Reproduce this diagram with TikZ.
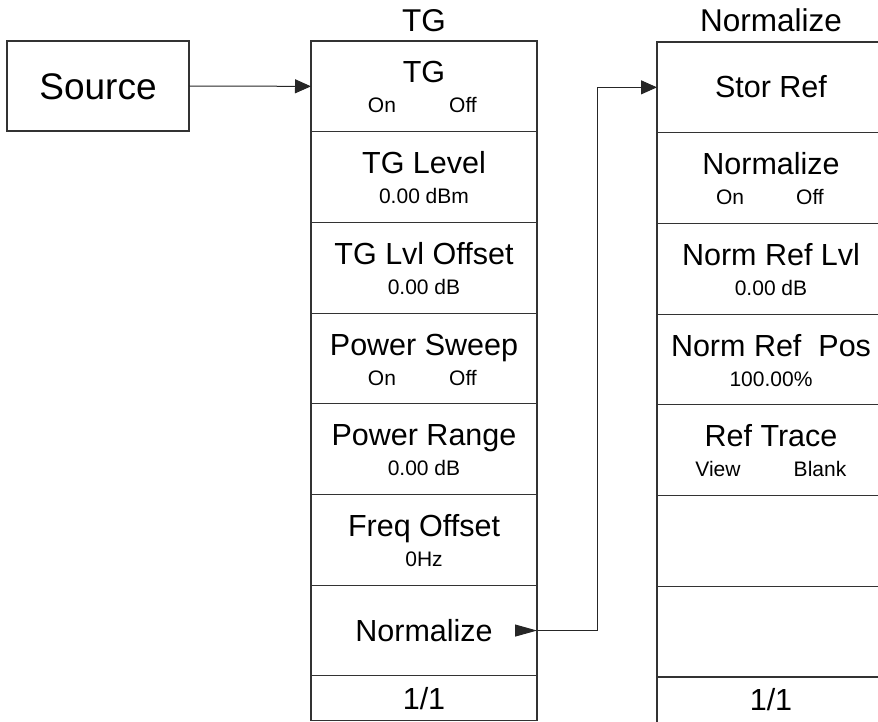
\documentclass[tikz,border=0pt]{standalone}
\usepackage{fontspec}
\setmainfont{Liberation Sans}
\usetikzlibrary{arrows.meta}
\begin{document}
\begin{tikzpicture}[x=1pt,y=-1pt,
  cell/.style={draw=black!80, line width=1.1pt, minimum width=226pt, inner sep=0pt, outer sep=0pt},
  big/.style={font=\fontsize{30.5}{36}\selectfont, anchor=base, inner sep=0pt},
  small/.style={font=\fontsize{21}{25}\selectfont, anchor=base, inner sep=0pt},
  ttl/.style={font=\fontsize{31.5}{37}\selectfont, anchor=base, inner sep=0pt},
  conn/.style={line width=1pt, draw=black!85},
  tip/.style={-{Triangle[length=16pt,width=14pt]}}
]
\useasboundingbox (0,0) rectangle (878,722);
\clip (0,0) rectangle (878,722);

% Source
\node[draw=black!80, line width=1.1pt, minimum width=182pt, minimum height=90pt, inner sep=0pt, outer sep=0pt] (src) at (98,86) {};
\node[anchor=base, inner sep=0pt, font=\fontsize{37}{42}\selectfont] (srct) at (98,99.5) {Source};

% Titles
\node[ttl] (ttg) at (424,32) {TG};
\node[ttl] (tnm) at (771,32) {Normalize};

% TG column cells
\node[cell, minimum height=90.7pt] (t1) at (424,86.35) {};
\node[cell, minimum height=90.7pt] (t2) at (424,177.05) {};
\node[cell, minimum height=90.7pt] (t3) at (424,267.75) {};
\node[cell, minimum height=90.7pt] (t4) at (424,358.45) {};
\node[cell, minimum height=90.7pt] (t5) at (424,449.15) {};
\node[cell, minimum height=90.7pt] (t6) at (424,539.85) {};
\node[cell, minimum height=90.7pt] (t7) at (424,630.55) {};
\node[cell, minimum height=44.8pt] (t8) at (424,698.3) {};

% TG column texts
\node[big] (t1a) at (424,83) {TG};
\node[small] (t1b) at (382,113) {On};
\node[small] (t1c) at (463,113) {Off};
\node[big] (t2a) at (424,173.7) {TG Level};
\node[small] (t2b) at (424,203.7) {0.00 dBm};
\node[big] (t3a) at (424,264.4) {TG Lvl Offset};
\node[small] (t3b) at (424,294.4) {0.00 dB};
\node[big] (t4a) at (424,355.1) {Power Sweep};
\node[small] (t4b) at (382,385.1) {On};
\node[small] (t4c) at (463,385.1) {Off};
\node[big] (t5a) at (424,445.8) {Power Range};
\node[small] (t5b) at (424,475.8) {0.00 dB};
\node[big] (t6a) at (424,536.5) {Freq Offset};
\node[small] (t6b) at (424,566.5) {0Hz};
\node[big] (t7a) at (424,641) {Normalize};
\node[big] (t8a) at (424,709) {1/1};

% Normalize column cells
\node[cell, minimum height=90.7pt] (n1) at (770,87.35) {};
\node[cell, minimum height=90.7pt] (n2) at (770,178.05) {};
\node[cell, minimum height=90.7pt] (n3) at (770,268.75) {};
\node[cell, minimum height=90.7pt] (n4) at (770,359.45) {};
\node[cell, minimum height=90.7pt] (n5) at (770,450.15) {};
\node[cell, minimum height=90.7pt] (n6) at (770,540.85) {};
\node[cell, minimum height=90.7pt] (n7) at (770,631.55) {};
\node[cell, minimum height=48pt] (n8) at (770,701) {};

% Normalize column texts
\node[big] (n1a) at (771,98) {Stor Ref};
\node[big] (n2a) at (771,174.7) {Normalize};
\node[small] (n2b) at (730,204.7) {On};
\node[small] (n2c) at (810,204.7) {Off};
\node[big] (n3a) at (771,265.4) {Norm Ref Lvl};
\node[small] (n3b) at (771,295.4) {0.00 dB};
\node[big] (n4a) at (771,356.1) {Norm Ref\ \ Pos};
\node[small] (n4b) at (771,386.1) {100.00\%};
\node[big] (n5a) at (771,446.8) {Ref Trace};
\node[small] (n5b) at (718,476.8) {View};
\node[small] (n5c) at (820,476.8) {Blank};
\node[big] (n8a) at (771,710) {1/1};

% Connectors
\draw[conn,tip] (src.east) -- (t1.west);
\draw[conn,-{Triangle[length=22pt,width=12pt]}] ([xshift=-22pt]t7.east) -- (t7.east);
\draw[conn,tip] (t7.east) -- ++(60,0) |- (n1.west);
\end{tikzpicture}
\end{document}
